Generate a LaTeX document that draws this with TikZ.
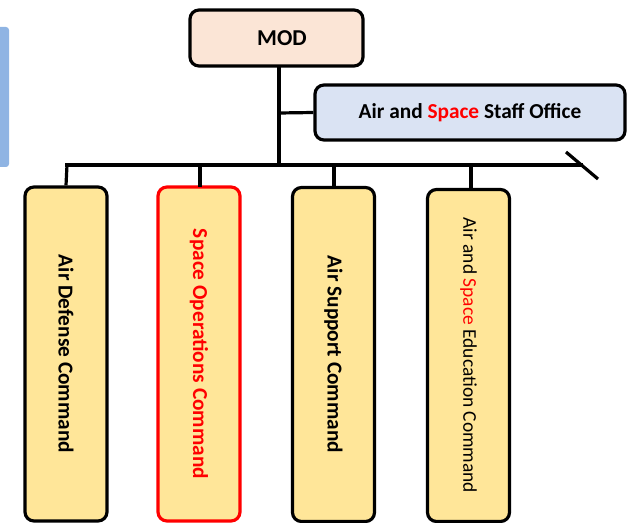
\documentclass[tikz,border=0pt]{standalone}
\usepackage{fontspec}
\setmainfont{Carlito}
\usepackage{graphicx}
\definecolor{peach}{HTML}{FBE5D6}
\definecolor{paleblue}{HTML}{DAE3F3}
\definecolor{cmdyellow}{HTML}{FFE699}
\definecolor{barblue}{HTML}{8FB4E3}
\definecolor{hired}{HTML}{FF0000}
\begin{document}
\begin{tikzpicture}[x=1bp,y=-1bp,
  box/.style={draw=black, line width=3.2bp, rounded corners=9bp, inner sep=0pt, font=\bfseries},
  topbox/.style={box, fill=peach, minimum width=173bp, minimum height=56bp, font=\bfseries\fontsize{22.8}{26}\selectfont},
  staffbox/.style={box, fill=paleblue, minimum width=310bp, minimum height=55bp, font=\bfseries\fontsize{21.4}{24}\selectfont},
  cmdbox/.style={box, fill=cmdyellow, minimum width=82bp, minimum height=334bp, font=\bfseries\fontsize{21.4}{24}\selectfont},
  conn/.style={line width=3.2bp, draw=black}
]
\useasboundingbox (0,0) rectangle (633,523);
\fill[barblue, rounded corners=3bp] (-6,27) rectangle (9,167);

\node[topbox] (mod) at (276.5,38) {\hspace*{11bp}MOD};
\node[staffbox] (staff) at (470,112.5) {Air and \textcolor{hired}{Space} Staff Office};

\node[cmdbox] (c1) at (66,354) {\rotatebox{-90}{Air Defense Command}};
\node[cmdbox, draw=hired, text=hired] (c2) at (199,354) {\rotatebox{-90}{Space Operations Command}};
\node[cmdbox] (c3) at (333.5,354.5) {\rotatebox{-90}{Air Support Command}};
\node[cmdbox, minimum height=332bp] (c4) at (468.5,355.5) {\rotatebox{-90}{\mdseries\fontsize{19.5}{22}\selectfont Air and \textcolor{hired}{Space} Education Command}};

\coordinate (spinetop) at (279,66);
\coordinate (spinemid) at (279,113);
\coordinate (spinebot) at (279,165);
\coordinate (busL) at (67,165);
\coordinate (busR) at (581,165);
\coordinate (slashA) at (566,152);
\coordinate (slashB) at (598,179);

\draw[conn] (spinetop) -- (spinebot);
\draw[conn] (spinemid) -- (staff.west);
\draw[conn, line cap=rect] (busL) -- (busR);
\draw[conn] (slashA) -- (slashB);
\draw[conn] (busL) -- (c1.north);
\draw[conn] (200,165) -- (200,187);
\draw[conn] (334,165) -- (334,187);
\draw[conn] (471,165) -- (471,189);
\end{tikzpicture}
\end{document}
